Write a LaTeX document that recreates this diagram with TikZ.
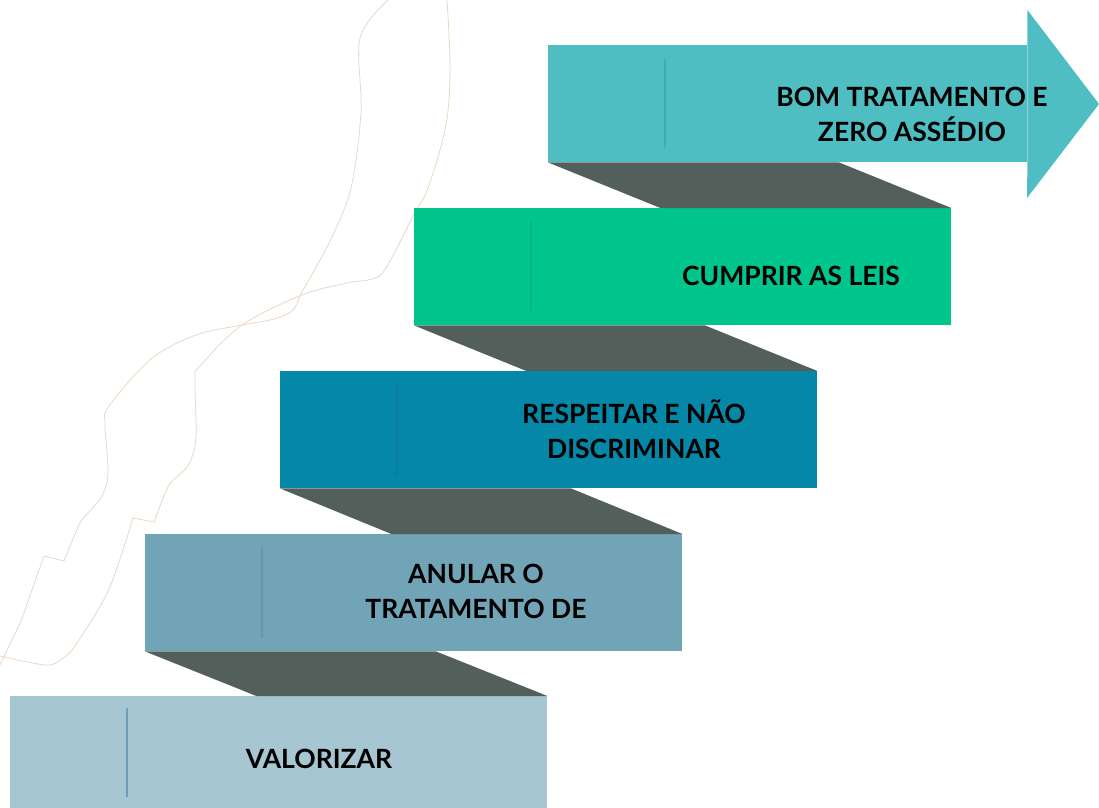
\documentclass[tikz,border=0pt]{standalone}
\usepackage{fontspec}
\setsansfont{Lato}
\definecolor{stepone}{HTML}{A6C6D1}
\definecolor{steptwo}{HTML}{71A4B7}
\definecolor{stepthree}{HTML}{0587A8}
\definecolor{stepfour}{HTML}{00C58C}
\definecolor{stepfive}{HTML}{4FBEC2}
\definecolor{lineone}{HTML}{6E9DB5}
\definecolor{linetwo}{HTML}{6698AB}
\definecolor{linethree}{HTML}{077E9E}
\definecolor{linefour}{HTML}{05B685}
\definecolor{linefive}{HTML}{3AAFB9}
\definecolor{shadowgray}{HTML}{535F5A}
\definecolor{sand}{HTML}{EBD7C4}
\begin{document}
\begin{tikzpicture}[x=1pt, y=-1pt,
    stepbox/.style={rectangle, minimum width=537pt, minimum height=117pt, inner sep=0pt, anchor=north west},
    steptext/.style={font=\fontsize{26.5}{35}\selectfont\sffamily\bfseries, align=center, text=black},
    shadow/.style={fill=shadowgray},
    divider/.style={line width=1.5pt}]
    \useasboundingbox (0,0) rectangle (1099,807);

    % Draw background curves
    \draw[sand, line width=0.8pt] plot[smooth, tension=0.55] coordinates {
        (388,0) (360,38) (361,112) (351,188) (330,241) (302,292) (293,310)
        (274,319) (242,325) (196,335) (151,359) (109,406) (105,424) (108,473)
        (102,496) (88,513) (79,525) (64,561)};
    \draw[sand, line width=0.8pt] (64,561) -- (44,556) -- (21,621) -- (0,665);
    \draw[sand, line width=0.8pt] plot[smooth, tension=0.55] coordinates {
        (447,0) (450,67) (446,125) (428,188) (414,214) (386,268) (372,279)
        (347,283) (302,295) (242,325) (200,366) (195,379) (196,438) (189,464)
        (179,475) (168,487) (154,522)};
    \draw[sand, line width=0.8pt] (154,522) -- (133,518);
    \draw[sand, line width=0.8pt] plot[smooth, tension=0.55] coordinates {
        (133,518) (109,589) (77,643) (63,658) (46,665) (0,656)};

    % Draw steps
    \node[stepbox, fill=stepone] (s1) at (10,696) {};
    \node[stepbox, fill=steptwo] (s2) at (145,534) {};
    \node[stepbox, fill=stepthree] (s3) at (280,371) {};
    \node[stepbox, fill=stepfour] (s4) at (414,208) {};
    \node[stepbox, fill=stepfive, minimum width=479pt] (s5) at (548,45) {};
    \fill[stepfive] (s5.north east) -- ++(0,-35) -- (1099,104) -- ++(-72,94) -- (s5.south east) -- cycle;

    % Draw shadows
    \fill[shadow] (s2.south west) -- ++(291,0) -- (s1.north east) -- ++(-291,0) -- cycle;
    \fill[shadow] (s3.south west) -- ++(291,0) -- (s2.north east) -- ++(-291,0) -- cycle;
    \fill[shadow] (s4.south west) -- ++(291,0) -- (s3.north east) -- ++(-291,0) -- cycle;
    \fill[shadow] (s5.south west) -- ++(291,0) -- (s4.north east) -- ++(-291,0) -- cycle;

    % Draw dividers
    \draw[divider, lineone] ([xshift=117pt, yshift=-12pt]s1.north west) -- ([xshift=117pt, yshift=16pt]s1.south west);
    \draw[divider, linetwo] ([xshift=117pt, yshift=-13pt]s2.north west) -- ([xshift=117pt, yshift=13pt]s2.south west);
    \draw[divider, linethree] ([xshift=117pt, yshift=-13pt]s3.north west) -- ([xshift=117pt, yshift=13pt]s3.south west);
    \draw[divider, linefour] ([xshift=117pt, yshift=-13pt]s4.north west) -- ([xshift=117pt, yshift=13pt]s4.south west);
    \draw[divider, linefive] ([xshift=117pt, yshift=-14pt]s5.north west) -- ([xshift=117pt, yshift=14pt]s5.south west);

    % Draw labels
    \node[steptext] (t1) at (319,759) {VALORIZAR};
    \node[steptext] (t2) at (476,591) {ANULAR O\\TRATAMENTO DE};
    \node[steptext] (t3) at (634,429) {RESPEITAR E NÃO\\DISCRIMINAR};
    \node[steptext] (t4) at (791,276) {CUMPRIR AS LEIS};
    \node[steptext] (t5) at (912,114) {BOM TRATAMENTO E\\ZERO ASSÉDIO};
\end{tikzpicture}
\end{document}
